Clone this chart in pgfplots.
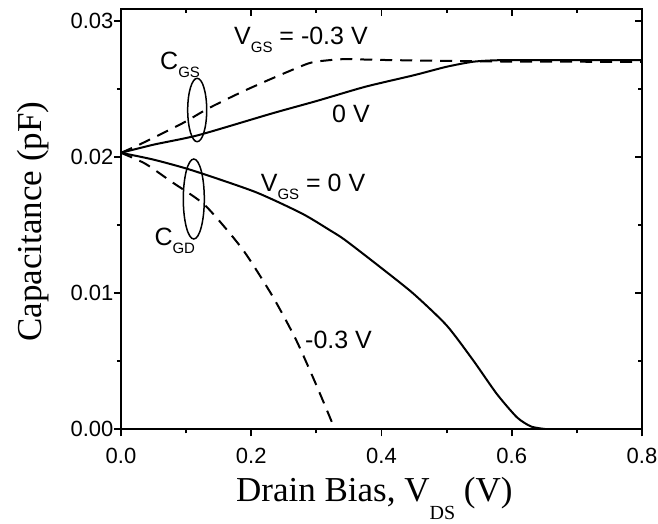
\documentclass[border=0pt]{standalone}
\usepackage{pgfplots}
\pgfplotsset{compat=1.18}
\usepackage{fontspec}
\setmainfont{Liberation Sans}
\newfontfamily\seriffont{Liberation Serif}
\newcommand\sub[1]{\raisebox{-8pt}{\fontsize{15}{15}\selectfont #1}}
\newcommand\ann{\fontsize{25}{25}\selectfont}
\begin{document}
\begin{tikzpicture}
\pgfplotsset{
  base/.style={
    at={(0pt,0pt)}, anchor=south west,
    scale only axis, width=521pt, height=420.3pt,
    xmin=0, xmax=0.8, ymin=0, ymax=0.03086,
    xtick={0,0.2,0.4,0.6,0.8}, ytick={0,0.01,0.02,0.03},
    minor x tick num=1, minor y tick num=1,
    major tick length=7pt, minor tick length=4pt,
    axis line style={line width=2pt},
    every tick/.style={line width=1.8pt, black},
    scaled x ticks=false, scaled y ticks=false,
  }
}
\begin{axis}[base,
  tick align=outside,
  xtick pos=left, ytick pos=left,
  /pgf/number format/assume math mode=true,
  ticklabel style={font=\fontsize{22}{22}\selectfont},
  xticklabel style={yshift=-8pt, /pgf/number format/.cd, fixed, fixed zerofill, precision=1},
  yticklabel style={xshift=3pt, /pgf/number format/.cd, fixed, fixed zerofill, precision=2},
]
% C_GS, V_GS = 0 V (solid)
\addplot[black, line width=2pt, smooth, tension=0.4] coordinates {
(0,0.0203) (0.05,0.0209) (0.119,0.0216) (0.2317,0.02319) (0.30,0.0241)
(0.375,0.02515) (0.45,0.0260) (0.50,0.02662) (0.541,0.02699) (0.58,0.0271)
(0.65,0.0271) (0.8,0.0271)};
% C_GS, V_GS = -0.3 V (dashed)
\addplot[black, line width=2pt, dash pattern=on 12pt off 8pt, smooth, tension=0.4] coordinates {
(0,0.0203) (0.032,0.02099) (0.094,0.02246) (0.134,0.02356) (0.186,0.02478)
(0.232,0.02576) (0.288,0.02687) (0.315,0.02708) (0.344,0.02718) (0.40,0.02712)
(0.50,0.02705) (0.6,0.02700) (0.8,0.02698)};
% C_GD, V_GS = 0 V (solid)
\addplot[black, line width=2pt, smooth, tension=0.4] coordinates {
(0,0.0203) (0.05,0.0198) (0.109,0.01902) (0.206,0.01743) (0.278,0.01584)
(0.321,0.01461) (0.344,0.0139) (0.398,0.01191) (0.449,0.00996) (0.500,0.00763)
(0.541,0.00505) (0.577,0.0026) (0.608,0.00088) (0.63,0.0002) (0.655,0.0)};
% C_GD, V_GS = -0.3 V (dashed)
\addplot[black, line width=2pt, dash pattern=on 12pt off 8pt, smooth, tension=0.4] coordinates {
(0,0.0203) (0.037,0.01951) (0.078,0.01816) (0.129,0.01645) (0.186,0.01326)
(0.232,0.00983) (0.268,0.00665) (0.298,0.00346) (0.324,0.0005) (0.327,0.0)};
\end{axis}
\begin{axis}[base,
  tick align=inside,
  xtick pos=right, ytick pos=right,
  xticklabels={}, yticklabels={},
]
\end{axis}
% annotations
\node[anchor=base west, inner sep=0pt] at (113pt,384.3pt) {\ann V\sub{GS} = -0.3 V};
\node[anchor=base west, inner sep=0pt] at (211pt,307.3pt) {\ann 0 V};
\node[anchor=base west, inner sep=0pt] at (39pt,359.3pt) {\ann C\sub{GS}};
\node[anchor=base west, inner sep=0pt] at (33.3pt,184.3pt) {\ann C\sub{GD}};
\node[anchor=base west, inner sep=0pt] at (139.7pt,237.6pt) {\ann V\sub{GS} = 0 V};
\node[anchor=base west, inner sep=0pt] at (184pt,81pt) {\ann -0.3 V};
\draw[line width=1.5pt] (76.2pt,319.3pt) ellipse [x radius=9.5pt, y radius=31.7pt];
\draw[line width=1.5pt] (72.8pt,230.3pt) ellipse [x radius=10.5pt, y radius=40pt];
% axis labels
\node[anchor=base west, inner sep=0pt] at (115pt,-71.7pt) {\seriffont\fontsize{35}{35}\selectfont Drain Bias, V\raisebox{-18pt}{\fontsize{20}{20}\selectfont DS} (V)};
\node[anchor=base, rotate=90, inner sep=0pt] at (-79pt,207.8pt) {\seriffont\fontsize{35}{35}\selectfont Capacitance (pF)};
\pgfresetboundingbox
\path[use as bounding box] (-121pt,-93.7pt) rectangle (537pt,429.3pt);
\end{tikzpicture}
\end{document}
